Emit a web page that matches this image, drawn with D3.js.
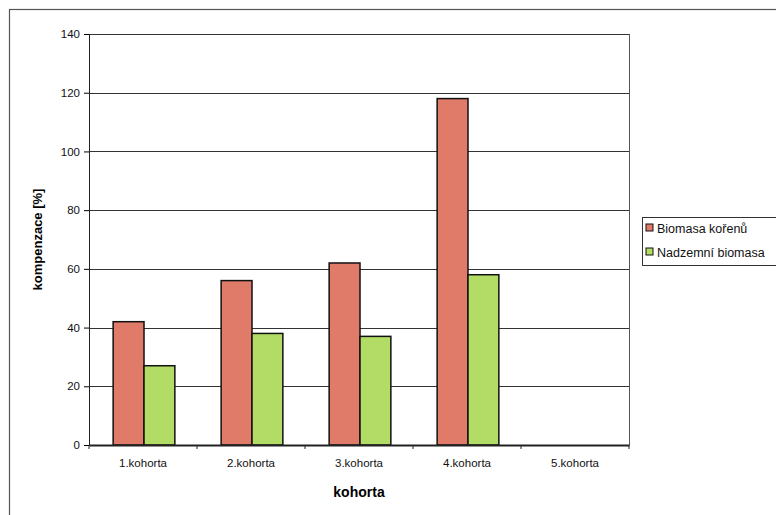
<!DOCTYPE html>
<html>
<head>
<meta charset="utf-8">
<script src="https://cdn.jsdelivr.net/npm/d3@7"></script>
<style>
  body { margin: 0; background: #fff; }
  text { font-family: "Liberation Sans", Arial, sans-serif; }
</style>
</head>
<body>
<div id="chart"></div>
<script>
// chart data
var categories = ["1.kohorta", "2.kohorta", "3.kohorta", "4.kohorta", "5.kohorta"];
var seriesNames = ["Biomasa kořenů", "Nadzemní biomasa"];
var rootValues = [42, 56, 62, 118, null];
var shootValues = [27, 38, 37, 58, null];
var yTicks = [0, 20, 40, 60, 80, 100, 120, 140];
var colors = ["#df7b68", "#b2dc66"];

var width = 776, height = 515;
var plot = { left: 89, right: 629, top: 34, bottom: 445 };

var svg = d3.select("#chart").append("svg")
  .attr("width", width).attr("height", height);

// outer chart frame (runs off the picture on right and bottom)
svg.append("rect").attr("x", 9.5).attr("y", 9.5)
  .attr("width", 800).attr("height", 600)
  .style("fill", "none").style("stroke", "#555").style("stroke-width", 1.2);

var x = d3.scaleBand().domain(categories).range([plot.left, plot.right]);
var y = d3.scaleLinear().domain([0, 140]).range([plot.bottom, plot.top]);
var barW = x.bandwidth() / 3.5;

// gridlines
svg.append("g").selectAll("line").data(yTicks.slice(1)).enter().append("line")
  .attr("x1", plot.left).attr("x2", plot.right)
  .attr("y1", function(d){ return Math.round(y(d)) + 0.5; })
  .attr("y2", function(d){ return Math.round(y(d)) + 0.5; })
  .style("stroke", "#333").style("stroke-width", 1);

// plot frame right side
svg.append("line").attr("x1", plot.right + 0.5).attr("x2", plot.right + 0.5)
  .attr("y1", plot.top).attr("y2", plot.bottom)
  .style("stroke", "#555");

// bars
var series = [rootValues, shootValues];
series.forEach(function(vals, s){
  svg.append("g").selectAll("rect")
    .data(vals.map(function(v, i){ return { c: categories[i], v: v }; }).filter(function(d){ return d.v != null; }))
    .enter().append("rect")
    .attr("x", function(d){ return x(d.c) + barW * 0.75 + s * barW + 1; })
    .attr("y", function(d){ return y(d.v); })
    .attr("width", barW)
    .attr("height", function(d){ return y(0) - y(d.v); })
    .style("fill", colors[s]).style("stroke", "#111").style("stroke-width", 1.5);
});

// y axis
var yAxis = d3.axisLeft(y).tickValues(yTicks).tickSize(5).tickPadding(4);
var gy = svg.append("g").attr("transform", "translate(" + plot.left + ",0)").call(yAxis);
gy.select(".domain").style("stroke", "#222");
gy.selectAll("text").style("font-size", "11.5px").style("fill", "#111");

// x axis
var xAxis = d3.axisBottom(x).tickSize(0).tickPadding(14);
var gx = svg.append("g").attr("transform", "translate(0," + plot.bottom + ")").call(xAxis);
gx.select(".domain").style("stroke", "#222").style("stroke-width", 2);
gx.selectAll("text").style("font-size", "11.5px").style("fill", "#111");
// category separator ticks
gx.append("g").selectAll("line").data(categories.concat([null])).enter().append("line")
  .attr("x1", function(d, i){ return plot.left + i * x.step(); })
  .attr("x2", function(d, i){ return plot.left + i * x.step(); })
  .attr("y1", 0).attr("y2", 4).style("stroke", "#222");

// axis titles
svg.append("text").attr("x", (plot.left + plot.right) / 2).attr("y", 497)
  .attr("text-anchor", "middle").style("font-size", "14px").style("font-weight", "bold")
  .text("kohorta");
svg.append("text")
  .attr("transform", "translate(42," + ((plot.top + plot.bottom) / 2) + ") rotate(-90)")
  .attr("text-anchor", "middle").style("font-size", "13px").style("font-weight", "bold")
  .text("kompenzace [%]");

// legend
var lg = svg.append("g").attr("transform", "translate(642,217)");
lg.append("rect").attr("x", 0.5).attr("y", 0.5).attr("width", 150).attr("height", 48)
  .style("fill", "#fff").style("stroke", "#333");
seriesNames.forEach(function(name, i){
  var row = lg.append("g").attr("transform", "translate(4," + (11 + i * 24) + ")");
  row.append("rect").attr("x", 0).attr("y", -4).attr("width", 7).attr("height", 7)
    .style("fill", colors[i]).style("stroke", "#111");
  row.append("text").attr("x", 11).attr("y", 4.5).style("font-size", "12.5px").style("fill", "#111")
    .text(name);
});
</script>
</body>
</html>
